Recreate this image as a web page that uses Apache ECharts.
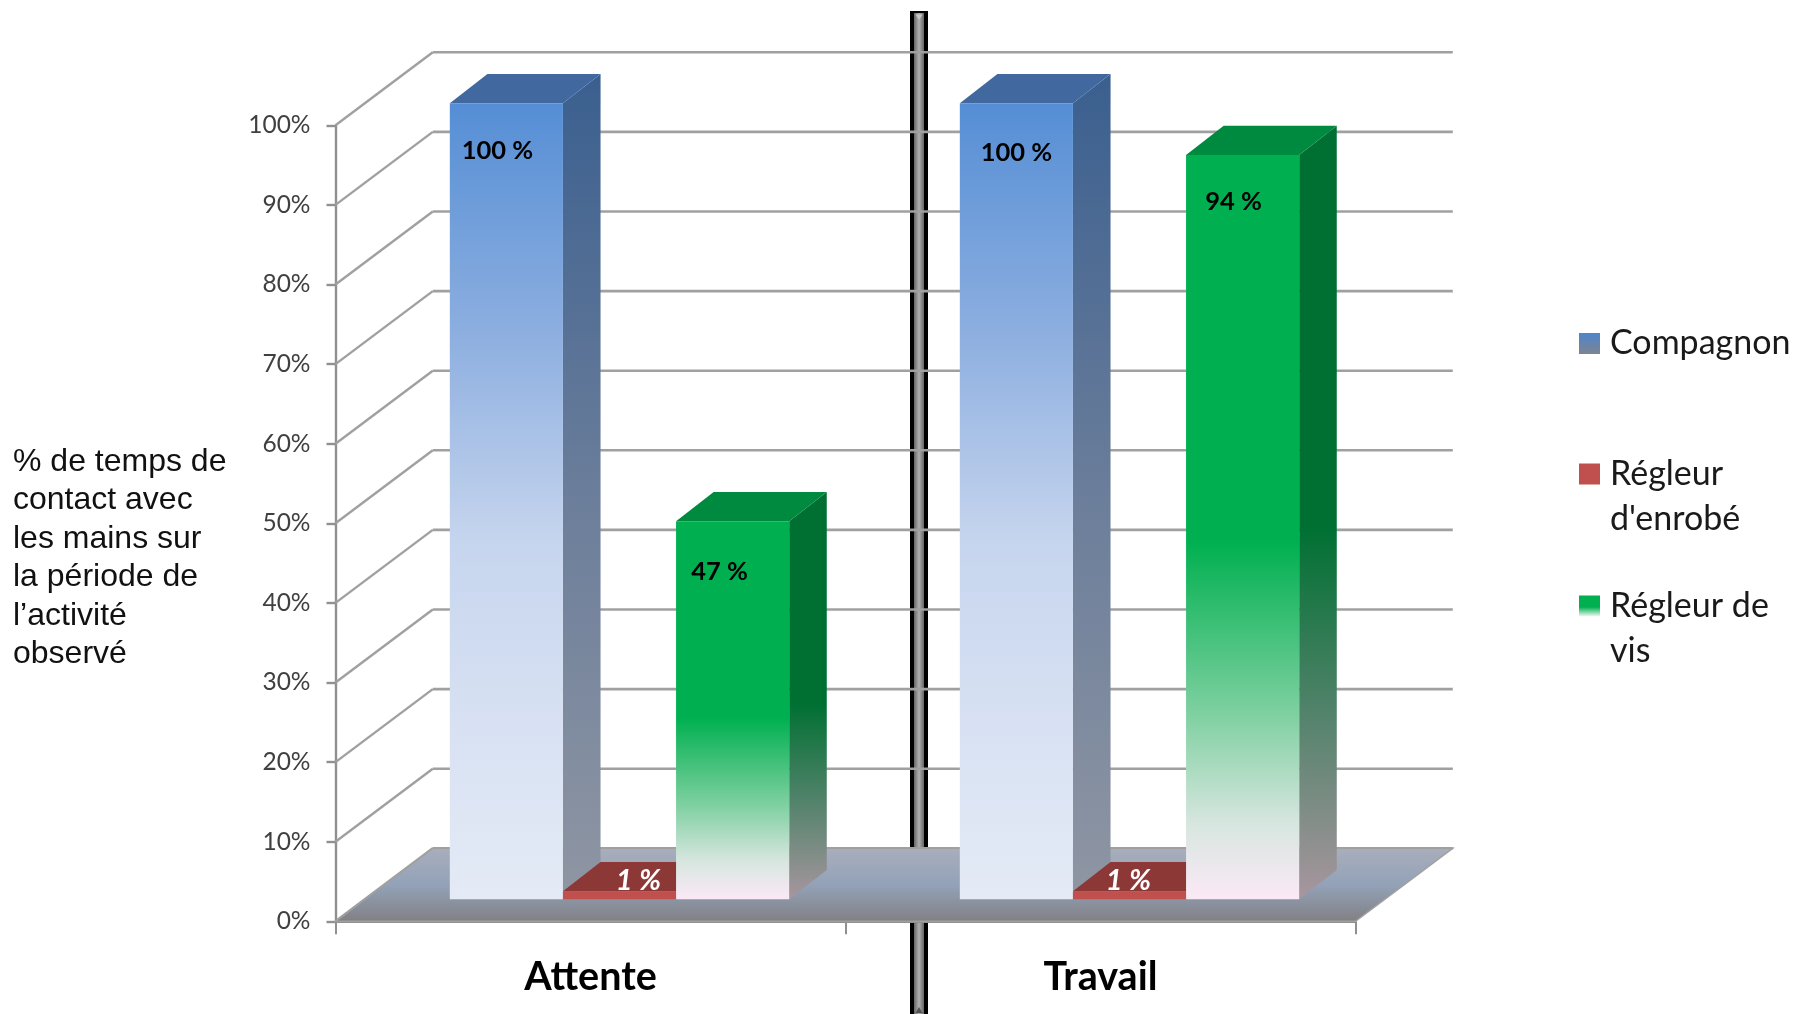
<!DOCTYPE html>
<html><head><meta charset="utf-8">
<style>html,body{margin:0;padding:0;background:#fff}#c{width:1795px;height:1014px}</style>
<script src="https://cdn.jsdelivr.net/npm/echarts@6/dist/echarts.min.js"></script>
</head><body><div id="c"></div>
<script>
const categories = ['Attente', 'Travail'];
const compagnon = [100, 100];
const regleurEnrobe = [1, 1];
const regleurVis = [47.5, 93.5];
const compagnonLabels = ['100 %', '100 %'];
const regleurEnrobeLabels = ['1 %', '1 %'];
const regleurVisLabels = ['47 %', '94 %'];
const seriesNames = ['Compagnon', "Régleur d'enrobé", 'Régleur de vis'];
const backWallTicks = [0, 10, 20, 30, 40, 50, 60, 70, 80, 90, 100];
const axisTitle = "% de temps de\ncontact avec\nles mains sur\nla période de\nl’activité\nobservé";

const G = echarts.graphic.LinearGradient;
const vGrad = stops => new G(0, 0, 0, 1, stops.map(s => ({offset: s[0], color: s[1]})));
const WALL = {dx: 97.3, dy: -73};
const SHIFT = {dx: 29, dy: -22};
const DEPTH = {dx: 37.6, dy: -29.3};
const BAR_FRAC = 0.2218;
const looks = [
  {front: vGrad([[0,'#558ed5'],[0.3,'#8fb0e0'],[0.55,'#c6d5ee'],[0.8,'#d9e2f3'],[1,'#e4ebf6']]),
   side: vGrad([[0,'#3a5f8f'],[0.5,'#6a7d9a'],[1,'#8f96a3']]), top: '#41699f',
   label: {fill:'#000', size:25.5, style:'normal'}, off: [[-9,47],[0,49]]},
  {front: '#c0504d', side: '#8c3836', top: '#8c3836',
   label: {fill:'#fff', size:29, style:'italic'}, off: [[19,-10.5],[-1,-10.5]]},
  {front: vGrad([[0,'#00b050'],[0.52,'#00b050'],[0.75,'#7ed0a0'],[0.9,'#d8e6e0'],[1,'#fbe9f6']]),
   side: vGrad([[0,'#007032'],[0.52,'#007032'],[0.75,'#4f8269'],[1,'#a8969f']]), top: '#008a40',
   label: {fill:'#000', size:25.5, style:'normal'}, off: [[-13,51],[-9,46.5]]}
];

function barRenderer(j, labels) {
  return function (params, api) {
    const i = api.value(0), v = api.value(1);
    const catW = api.size([1, 0])[0], w = catW * BAR_FRAC;
    const c = api.coord([i, v]), b = api.coord([i, 0]);
    const x0 = c[0] + SHIFT.dx - 1.5 * w + j * w, x1 = x0 + w;
    const yt = c[1] + SHIFT.dy, yb = b[1] + SHIFT.dy;
    const L = looks[j], d = DEPTH;
    const o = L.off[i];
    return {type: 'group', children: [
      {type:'polygon', shape:{points:[[x1,yt],[x1+d.dx,yt+d.dy],[x1+d.dx,yb+d.dy],[x1,yb]]}, style:{fill:L.side}},
      {type:'polygon', shape:{points:[[x0,yt],[x0+d.dx,yt+d.dy],[x1+d.dx,yt+d.dy],[x1,yt]]}, style:{fill:L.top}},
      {type:'rect', shape:{x:x0,y:yt,width:w,height:yb-yt}, style:{fill:L.front}},
      {type:'text', style:{text: labels[i], x:(x0+x1)/2+o[0], y:yt+o[1], fill:L.label.fill, fontSize:L.label.size,
        fontWeight:'bold', fontStyle:L.label.style, fontFamily:'Lato', align:'center', verticalAlign:'middle'}}
    ]};
  };
}
function barSeries(j, name, values, labels) {
  return {type:'custom', name, coordinateSystem:'cartesian2d', z:5, silent:true,
    encode:{x:0,y:1}, data: values.map((v,i)=>[i,v]), renderItem: barRenderer(j, labels)};
}
const wallSeries = {type:'custom', coordinateSystem:'cartesian2d', z:1, silent:true, encode:{x:0,y:1},
  data: backWallTicks.map(t=>[0,t]),
  renderItem(p, api){
    const v = api.value(1), catW = api.size([1,0])[0];
    const c = api.coord([0,v]), xl = c[0]-catW/2, xr = xl+2*catW, y = c[1];
    return {type:'group', children:[
      {type:'line', shape:{x1:xl,y1:y,x2:xl+WALL.dx,y2:y+WALL.dy}, style:{stroke:'#a0a0a0',lineWidth:2.4}},
      {type:'line', shape:{x1:xl+WALL.dx,y1:y+WALL.dy,x2:xr+WALL.dx,y2:y+WALL.dy}, style:{stroke:'#a0a0a0',lineWidth:2.6}}
    ]};
  }};
const floorSeries = {type:'custom', coordinateSystem:'cartesian2d', z:2, silent:true, encode:{x:0,y:1},
  data:[[0,0]],
  renderItem(p, api){
    const catW = api.size([1,0])[0], c = api.coord([0,0]), xl = c[0]-catW/2, xr = xl+2*catW, y = c[1];
    return {type:'polygon', shape:{points:[[xl,y],[xl+WALL.dx,y+WALL.dy],[xr+WALL.dx,y+WALL.dy],[xr,y]]},
      style:{fill:vGrad([[0,'#a9aebc'],[0.5,'#93a2b8'],[0.85,'#868a93'],[1,'#808080']]), stroke:'#a0a0a0', lineWidth:1.5}};
  }};

const legendText = {fontFamily:'Lato', fontSize:34, color:'#1a1a1a', lineHeight:45, padding:[2,0,0,5]};
function legendAt(name, top, color, fmt){
  return {left:1579, top, orient:'vertical', padding:0, itemWidth:21, itemHeight:21, itemGap:0, icon:'rect',
    textStyle:legendText, selectedMode:false, formatter:()=>fmt,
    data:[{name, itemStyle:{color, borderWidth:0}}]};
}
const sepX = 910, sepW = 18;
const chart = echarts.init(document.getElementById('c'), null, {renderer:'canvas'});
chart.setOption({
  animation:false, backgroundColor:'#fff',
  title:{text:axisTitle, left:13, top:443, padding:0,
    textStyle:{fontFamily:'Liberation Sans', fontSize:32, fontWeight:'normal', color:'#111', lineHeight:38.4}},
  legend:[
    legendAt(seriesNames[0], 320, vGrad([[0,'#4f85cc'],[1,'#7d8490']]), 'Compagnon'),
    legendAt(seriesNames[1], 405.5, '#c0504d', " \nRégleur\nd'enrobé"),
    legendAt(seriesNames[2], 537.5, vGrad([[0,'#00b050'],[0.55,'#00b050'],[1,'#f4f9f6']]), ' \nRégleur de\nvis')
  ],
  grid:{left:335.5, top:125.3, width:1020, height:796, containLabel:false},
  xAxis:{type:'category', data:categories, boundaryGap:true,
    axisLine:{lineStyle:{color:'#909090',width:2}},
    axisTick:{show:true, length:13, alignWithLabel:false, lineStyle:{color:'#909090',width:2}},
    axisLabel:{fontFamily:'Lato', fontWeight:'bold', fontSize:39.5, color:'#000', margin:36},
    splitLine:{show:false}},
  yAxis:{type:'value', min:0, max:100, interval:10,
    axisLine:{show:true, lineStyle:{color:'#909090',width:2.4}},
    axisTick:{show:true, length:9, lineStyle:{color:'#909090',width:2.4}},
    axisLabel:{fontFamily:'Lato', fontSize:24.5, color:'#404040', margin:25, padding:[11,0,0,0], formatter:'{value}%'},
    splitLine:{show:false}},
  series:[wallSeries, floorSeries,
    barSeries(0, seriesNames[0], compagnon, compagnonLabels),
    barSeries(1, seriesNames[1], regleurEnrobe, regleurEnrobeLabels),
    barSeries(2, seriesNames[2], regleurVis, regleurVisLabels)],
  graphic:[{type:'group', z:100, children:[
    {type:'rect', shape:{x:sepX,y:11,width:sepW,height:1003}, style:{fill:'#000'}},
    {type:'rect', shape:{x:sepX+4,y:13,width:sepW-8,height:1001},
      style:{fill:new G(0,0,1,0,[{offset:0,color:'#666666'},{offset:0.5,color:'#b0b0b0'},{offset:1,color:'#666666'}])}},
    {type:'polygon', shape:{points:[[sepX+5.5,14.5],[sepX+12.5,14.5],[sepX+9,20]]}, style:{fill:'#c8c8c8'}},
    {type:'polygon', shape:{points:[[sepX+5.5,1013],[sepX+12.5,1013],[sepX+9,1007]]}, style:{fill:'#555'}}
  ]}]
});
</script></body></html>
